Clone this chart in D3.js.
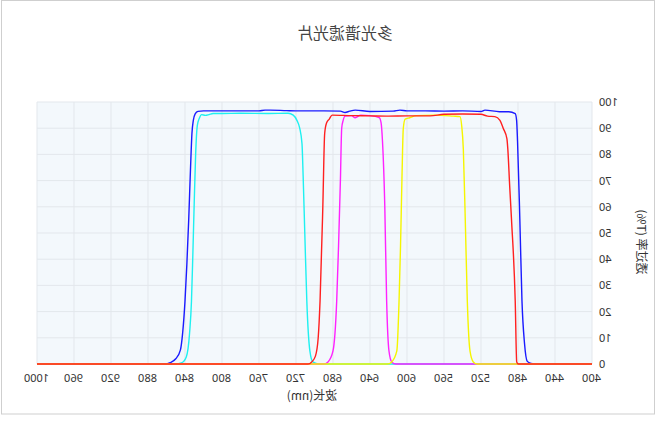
<!DOCTYPE html>
<html>
<head>
<meta charset="utf-8">
<script src="https://d3js.org/d3.v7.min.js"></script>
<style>
  body { margin: 0; background: #fff; }
  /* the reference picture is a mirror image, so the whole chart is flipped */
  #chart { transform: scaleX(-1); width: 658px; height: 424px; }
  text { font-family: "Noto Sans CJK SC", "Noto Sans", sans-serif; }
</style>
</head>
<body>
<div id="chart"></div>
<script>
// data: [wavelength nm, transmittance %]
const blueData = [[400,0],[462,0],[466,0.2],[470,1],[473,8],[475.7,24],[478,55],[480.5,85],[481.5,93],[483,95.6],[490,96.3],[500,96.3],[515.7,96.9],[520,96.4],[540,96.6],[560,96.5],[580,96.6],[600,96.6],[607.6,96.9],[615,96.5],[640,96.4],[656,96.9],[662,96.5],[667,96.0],[672,96.5],[690,96.6],[716,96.6],[730,96.7],[748,96.9],[753.5,96.9],[760,96.6],[770,96.6],[800,96.6],[820,96.6],[826,96.4],[829,95.5],[831,93],[832.5,88],[834,75],[836,55],[838,38],[840,24],[842.5,12],[845,5.3],[850,2],[856,0.5],[862,0],[1000,0]];
const cyanData = [[400,0],[695,0],[701.8,0.8],[705,5],[708.3,24],[710.5,50],[712.3,72],[713.5,84],[716,90],[719,93],[723,95],[728.6,95.7],[750,95.6],[780,95.7],[800,95.6],[809.7,95.6],[814,95.2],[818,94.9],[822,95.2],[824.5,93.8],[826.7,91],[828.5,80],[830,62],[831.5,42],[833,24],[835,12],[838.6,2.7],[844,0.4],[850,0],[1000,0]];
const magentaData = [[400,0],[612,0],[616.5,0.8],[619.5,5],[622,24],[624,60],[626.5,85],[628,92],[630,94],[640,94.8],[650,95],[656,94],[660,94.8],[667,94.6],[669,93],[670.6,90],[672,70],[674,45],[676,24],[680,5],[685.4,0.8],[690,0],[1000,0]];
const yellowData = [[400,0],[524,0],[528.3,0.8],[531.9,5],[534.8,24],[537,55],[539.1,82],[540.9,91],[542.7,94.4],[550,94.6],[570,95],[590,94.8],[597,94],[602,93.5],[604,90],[605.5,70],[607,45],[608.6,24],[611,5],[616.5,0.8],[621,0],[1000,0]];
const redData = [[400,0],[479.5,0],[481.4,0.8],[483,24],[487,55],[489,68],[491,82],[492,86],[496,90],[499.5,93],[505,94.4],[513,94.6],[520,95.3],[540,95.4],[560,95.3],[575,94.7],[600,94.7],[620,94.6],[640,94.7],[660,94.8],[681,95],[684,93.5],[687,92],[689,88],[691,60],[694,24],[696,10],[699,3],[703,0.8],[707,0],[1000,0]];

const seriesList = [
  {name: "blue", data: blueData, color: "#1a1aff"},
  {name: "cyan", data: cyanData, color: "#1ef0f0"},
  {name: "magenta", data: magentaData, color: "#ff22ff"},
  {name: "yellow", data: yellowData, color: "#f5f500"},
  {name: "red", data: redData, color: "#ff2020"}
];

const xTicks = [400,440,480,520,560,600,640,680,720,760,800,840,880,920,960,1000];
const yTicks = [0,10,20,30,40,50,60,70,80,90,100];

const width = 658, height = 424;
const plotLeft = 66, plotRight = 621, plotTop = 102, plotBottom = 364;

const svg = d3.select("#chart").append("svg")
  .attr("width", width)
  .attr("height", height);

// outer frame
svg.append("rect")
  .attr("x", 3.5).attr("y", 0.5)
  .attr("width", 653).attr("height", 413.5)
  .attr("fill", "none")
  .attr("stroke", "#cfcfcf");

const x = d3.scaleLinear().domain([400, 1000]).range([plotLeft, plotRight]);
const y = d3.scaleLinear().domain([0, 100]).range([plotBottom, plotTop]);

svg.append("rect")
  .attr("x", plotLeft).attr("y", plotTop)
  .attr("width", plotRight - plotLeft).attr("height", plotBottom - plotTop)
  .attr("fill", "#f3f8fc");

// grid
svg.append("g").selectAll("line")
  .data(xTicks)
  .enter().append("line")
  .attr("x1", d => x(d)).attr("x2", d => x(d))
  .attr("y1", plotTop).attr("y2", plotBottom)
  .attr("stroke", "#e3e7ec").attr("stroke-width", 1);

svg.append("g").selectAll("line")
  .data(yTicks)
  .enter().append("line")
  .attr("x1", plotLeft).attr("x2", plotRight)
  .attr("y1", d => y(d)).attr("y2", d => y(d))
  .attr("stroke", "#e3e7ec").attr("stroke-width", 1);

// axes (labels only)
const xAxis = svg.append("g")
  .attr("transform", `translate(0,${plotBottom})`)
  .call(d3.axisBottom(x).tickValues(xTicks).tickSize(0).tickPadding(10).tickFormat(d3.format("d")));
xAxis.select(".domain").remove();
xAxis.selectAll("text").attr("font-size", 11).attr("fill", "#333")
  .style("font-family", "'Noto Sans', sans-serif");

const yAxis = svg.append("g")
  .attr("transform", `translate(${plotLeft},0)`)
  .call(d3.axisLeft(y).tickValues(yTicks).tickSize(0).tickPadding(7));
yAxis.select(".domain").remove();
yAxis.selectAll("text").attr("font-size", 11).attr("fill", "#333")
  .style("font-family", "'Noto Sans', sans-serif");

// lines
const line = d3.line()
  .x(d => x(d[0]))
  .y(d => y(d[1]))
  .curve(d3.curveMonotoneX);

svg.append("g").selectAll("path")
  .data(seriesList)
  .enter().append("path")
  .attr("d", d => line(d.data))
  .attr("fill", "none")
  .attr("stroke", d => d.color)
  .attr("stroke-width", 1.4);

// texts
svg.append("text")
  .attr("x", 313).attr("y", 39)
  .attr("text-anchor", "middle")
  .attr("font-size", 16)
  .attr("fill", "#444")
  .text("多光谱滤光片");

svg.append("text")
  .attr("x", 346).attr("y", 400)
  .attr("text-anchor", "middle")
  .attr("font-size", 12)
  .attr("fill", "#333")
  .text("波长(nm)");

svg.append("text")
  .attr("transform", "translate(21,242) rotate(-90)")
  .attr("text-anchor", "middle")
  .attr("font-size", 12)
  .attr("fill", "#333")
  .text("透过率 (T%)");
</script>
</body>
</html>
